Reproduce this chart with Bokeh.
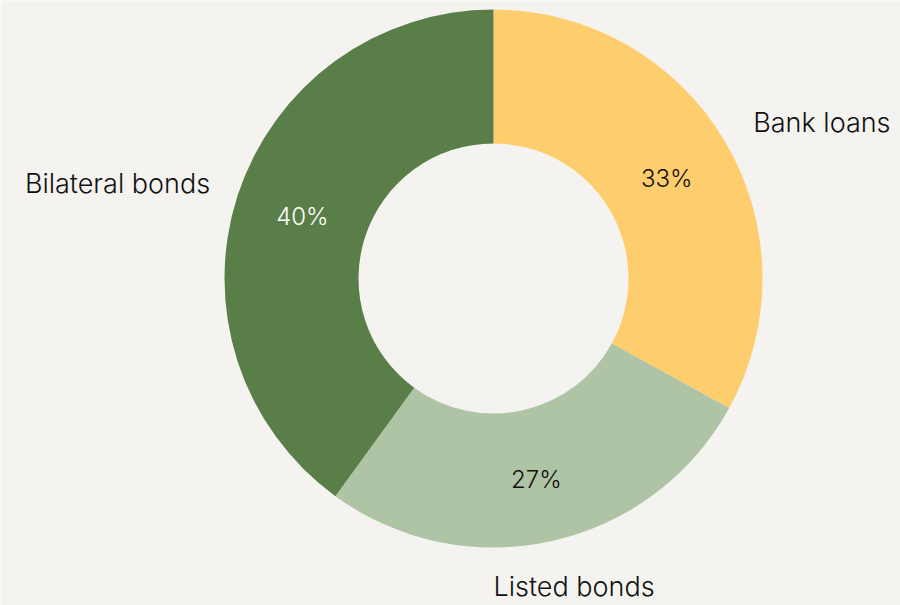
import math
from bokeh.plotting import figure
from bokeh.models import Range1d, ColumnDataSource
from bokeh.core.properties import value
from bokeh.embed import file_html
from bokeh.resources import INLINE

categories = ["Bank loans", "Listed bonds", "Bilateral bonds"]
shares = [33, 27, 40]
colors = ["#fecd6e", "#afc3a5", "#5a7e48"]
pct_text_colors = ["#111111", "#111111", "#ffffff"]
# label placement (polar: degrees clockwise from top, radius in px)
pct_label_angle = [60, 168, 288]
pct_label_radius = [200, 206, 201]
cat_label_angle = [59, 180, 288.6]
cat_label_radius = [303, 308, 299]
cat_label_align = ["left", "left", "right"]

BG = "#f4f3f0"
W, H = 900, 605
CX, CY = 493, 278  # centre in figure px
R_OUT, R_IN = 269, 135
FONT = "Inter Light, Inter"

p = figure(width=W, height=H, output_backend="svg", toolbar_location=None,
           x_range=Range1d(-CX, W - CX), y_range=Range1d(-(H - CY), CY),
           min_border=0)
p.axis.visible = False
p.grid.visible = False
p.outline_line_color = None
p.background_fill_color = BG
p.border_fill_color = BG

total = sum(shares)
starts, ends = [], []
cum = 0
for s in shares:
    starts.append(math.pi / 2 - 2 * math.pi * cum / total)
    cum += s
    ends.append(math.pi / 2 - 2 * math.pi * cum / total)

src = ColumnDataSource(dict(x=[0] * 3, y=[0] * 3, start=starts, end=ends, color=colors, cat=categories))
p.annular_wedge(x="x", y="y", inner_radius=R_IN, outer_radius=R_OUT,
                start_angle="start", end_angle="end", direction="clock",
                fill_color="color", line_color=None, source=src)

def polar(a_deg, r):
    a = math.radians(a_deg)
    return r * math.sin(a), r * math.cos(a)

px, py = zip(*[polar(a, r) for a, r in zip(pct_label_angle, pct_label_radius)])
pct_src = ColumnDataSource(dict(x=list(px), y=list(py),
                                t=[f"{s}%" for s in shares], c=pct_text_colors))
p.text(x="x", y="y", text="t", text_color="c", source=pct_src,
       text_align="center", text_baseline="middle",
       text_font=value(FONT), text_font_size="24px")

lx, ly = zip(*[polar(a, r) for a, r in zip(cat_label_angle, cat_label_radius)])
lab_src = ColumnDataSource(dict(x=list(lx), y=list(ly), t=categories, al=cat_label_align))
p.text(x="x", y="y", text="t", source=lab_src, text_align="al",
       text_baseline="middle", text_color="#111111",
       text_font=value(FONT), text_font_size="27px")

open("out.html", "w").write(file_html(p, INLINE))
